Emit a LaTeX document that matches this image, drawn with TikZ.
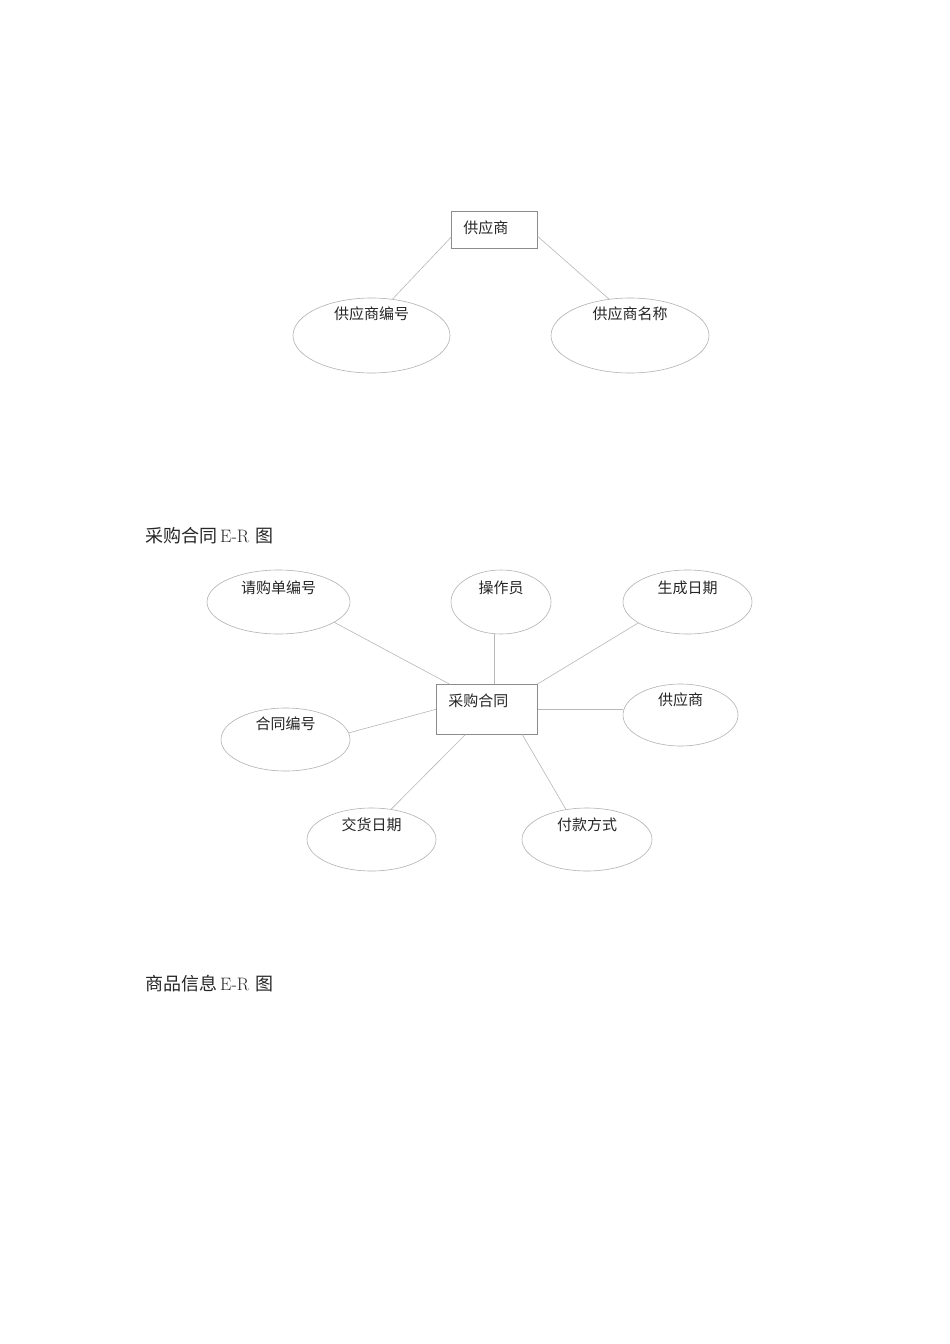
\documentclass[tikz,border=0pt]{standalone}
\usepackage{fontspec}
\newfontfamily\cjk{Noto Sans CJK SC}
\usetikzlibrary{shapes.geometric,calc}
\tikzset{
  ent/.style={draw=black!45, line width=0.6pt, rectangle, inner xsep=12pt, inner ysep=0pt,
    align=left, font=\cjk\fontsize{15}{15}\selectfont, text=black!85},
  attr/.style={ellipse, draw=black!30, line width=0.6pt, inner sep=0pt},
  lbl/.style={font=\cjk\fontsize{15}{15}\selectfont, text=black!85, inner sep=0pt},
  conn/.style={draw=black!28, line width=0.6pt},
  ttl/.style={font=\cjk\fontsize{18}{18}\selectfont, text=black!85, inner sep=0pt, anchor=west}
}
\begin{document}
\begin{tikzpicture}[x=1pt,y=-1pt]
\useasboundingbox (0,0) rectangle (950,1344);
\fill[white] (0,0) rectangle (950,1344);

% --- supplier E-R ---
\node[ent, text width=62pt, text height=21.7pt, text depth=15.3pt, anchor=north west] (s) at (451,211) {供应商};
\node[attr, minimum width=157pt, minimum height=75pt, label={[lbl,yshift=21.5pt]center:供应商编号}] (s1) at (371.5,335.5) {};
\node[attr, minimum width=158pt, minimum height=75pt, label={[lbl,yshift=21.5pt]center:供应商名称}] (s2) at (630,335.5) {};
\draw[conn] ($(s.west)+(0,7.5)$) -- (s1.60);
\draw[conn] ($(s.east)+(0,6.5)$) -- (s2.120);

% --- purchase contract E-R ---
\node[ttl] (t1) at (145,536) {采购合同\hspace{3pt}{\rmfamily E-R}\hspace{6pt}图};

\node[ent, text width=77pt, text height=21.7pt, text depth=28.3pt, anchor=north west] (c) at (436,684) {采购合同};

\node[attr, minimum width=143pt, minimum height=64pt, label={[lbl,yshift=14pt]center:请购单编号}] (q) at (278.5,602) {};
\node[attr, minimum width=100pt, minimum height=64pt, label={[lbl,yshift=14pt]center:操作员}] (o) at (501,602) {};
\node[attr, minimum width=129pt, minimum height=64pt, label={[lbl,yshift=14pt]center:生成日期}] (r) at (687.5,602) {};
\node[attr, minimum width=115pt, minimum height=62pt, label={[lbl,yshift=15pt]center:供应商}] (g) at (680.5,715) {};
\node[attr, minimum width=129pt, minimum height=63pt, label={[lbl,yshift=15.5pt]center:合同编号}] (h) at (285.5,739.5) {};
\node[attr, minimum width=129pt, minimum height=63pt, label={[lbl,yshift=14.5pt]center:交货日期}] (j) at (371.5,839.5) {};
\node[attr, minimum width=130pt, minimum height=63pt, label={[lbl,yshift=14.5pt]center:付款方式}] (f) at (587,839.5) {};

\draw[conn] (q.-20) -- ($(c.north)+(-37.5,0)$);
\coordinate (p) at ($(c.north)+(7.5,0)$);
\draw[conn] (p) -- (p |- o.south);
\draw[conn] (r.203) -- (c.north east);
\draw[conn] (c.east) -- (c.east -| g.west);
\draw[conn] (h.6) -- (c.west);
\draw[conn] (j.57) -- ($(c.south)+(-21.5,0)$);
\draw[conn] (f.125) -- ($(c.south)+(35.5,0)$);

% --- goods info E-R ---
\node[ttl] (t2) at (145,984) {商品信息\hspace{3pt}{\rmfamily E-R}\hspace{6pt}图};
\end{tikzpicture}
\end{document}
